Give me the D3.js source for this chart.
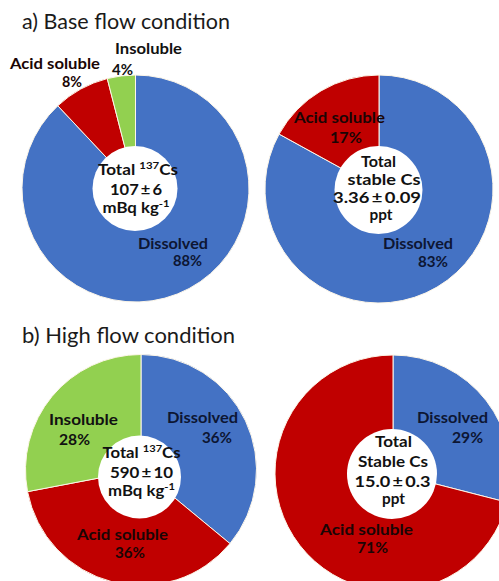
<!DOCTYPE html>
<html>
<head>
<meta charset="utf-8">
<script src="https://cdn.jsdelivr.net/npm/d3@7"></script>
<style>
  html, body { margin: 0; padding: 0; background: #fff; }
  svg { display: block; }
  text { font-family: Lato, "Open Sans", sans-serif; }
</style>
</head>
<body>
<svg id="chart" width="499" height="581"></svg>
<script>
// ---------------- DATA ----------------
const categories = ["Dissolved", "Acid soluble", "Insoluble"];
const baseFlowCs137   = [88, 8, 4];
const baseFlowStable  = [83, 17, 0];
const highFlowCs137   = [36, 36, 28];
const highFlowStable  = [29, 71, 0];
const panelTitles = ["a) Base flow condition", "b) High flow condition"];
const totalCs137Base   = "107\u2009\u00b1\u20096";
const totalStableBase  = "3.36\u2009\u00b1\u20090.09";
const totalCs137High   = "590\u2009\u00b1\u200910";
const totalStableHigh  = "15.0\u2009\u00b1\u20090.3";

// ---------------- STYLE / LAYOUT ----------------
const colors = ["#4472C4", "#C00000", "#92D050"];
const labelColors = ["#0d1633", "#1a0505", "#111111"];
const labelSize = 15;

const svg = d3.select("#chart");

const charts = [
  { values: baseFlowCs137, cx: 135.5, cy: 188.5, r: 113.5, hole: { cx: 135, cy: 188.5, r: 42.5 },
    labels: [
      { cat: 0, name: [173, 249, 70], pct: [187.5, 266, 29] },
      { cat: 1, name: [55, 69, 90],   pct: [72, 87, 20] },
      { cat: 2, name: [148.5, 54, 67], pct: [122.5, 75, 21] }
    ],
    center: [
      { parts: [["Total ", 0], ["137", 1], ["Cs", 0]], x: 138, y: 175, w: 80 },
      { parts: [[totalCs137Base, 0]], x: 136, y: 195, w: 52 },
      { parts: [["mBq kg", 0], ["-1", 1]], x: 136, y: 213, w: 67 }
    ] },
  { values: baseFlowStable, cx: 379, cy: 189, r: 114, hole: { cx: 378.5, cy: 190, r: 44 },
    labels: [
      { cat: 0, name: [418, 249, 70], pct: [433, 267, 30] },
      { cat: 1, name: [339.5, 123, 91], pct: [346, 143, 32] }
    ],
    center: [
      { parts: [["Total", 0]], x: 378.5, y: 167, w: 35 },
      { parts: [["stable Cs", 0]], x: 384, y: 185, w: 73 },
      { parts: [[totalStableBase, 0]], x: 377, y: 203, w: 88 },
      { parts: [["ppt", 0]], x: 381, y: 220, w: 23 }
    ] },
  { values: highFlowCs137, cx: 141, cy: 470, r: 115.5, hole: { cx: 139.5, cy: 477, r: 41.5 },
    labels: [
      { cat: 0, name: [202.5, 423, 71], pct: [217, 443, 30] },
      { cat: 1, name: [122.5, 540, 91], pct: [130, 558, 30] },
      { cat: 2, name: [83.5, 425, 69],  pct: [74.5, 445, 31] }
    ],
    center: [
      { parts: [["Total ", 0], ["137", 1], ["Cs", 0]], x: 141.5, y: 458, w: 78 },
      { parts: [[totalCs137High, 0]], x: 141.5, y: 478, w: 63 },
      { parts: [["mBq kg", 0], ["-1", 1]], x: 141.5, y: 496, w: 67 }
    ] },
  { values: highFlowStable, cx: 393, cy: 473, r: 118, hole: { cx: 392, cy: 474, r: 45 },
    labels: [
      { cat: 0, name: [452.5, 423, 71], pct: [467.5, 443, 31] },
      { cat: 1, name: [366.5, 535, 93], pct: [372.5, 553, 31] }
    ],
    center: [
      { parts: [["Total", 0]], x: 393.5, y: 447, w: 37 },
      { parts: [["Stable Cs", 0]], x: 393, y: 467, w: 70 },
      { parts: [[totalStableHigh, 0]], x: 392.5, y: 487, w: 76 },
      { parts: [["ppt", 0]], x: 393.5, y: 504, w: 23 }
    ] }
];

const titles = [
  { text: panelTitles[0], x: 22, y: 29, w: 208 },
  { text: panelTitles[1], x: 22, y: 343, w: 213 }
];

// ---------------- DRAW ----------------
const pie = d3.pie().sort(null).value(d => d);

titles.forEach(t => {
  svg.append("text")
    .attr("x", t.x).attr("y", t.y)
    .attr("font-size", 21)
    .attr("fill", "#1a1a1a")
    .attr("textLength", t.w)
    .attr("lengthAdjust", "spacingAndGlyphs")
    .text(t.text);
});

charts.forEach(c => {
  const g = svg.append("g").attr("transform", `translate(${c.cx},${c.cy})`);
  const arc = d3.arc().innerRadius(0).outerRadius(c.r);
  const arcs = pie(c.values).map((a, i) => ({ ...a, cat: i })).filter(a => a.data > 0);
  g.selectAll("path")
    .data(arcs)
    .join("path")
    .attr("d", arc)
    .attr("fill", d => colors[d.cat])
    .attr("stroke", "#fdf6e8")
    .attr("stroke-width", 1);

  svg.append("circle")
    .attr("cx", c.hole.cx).attr("cy", c.hole.cy).attr("r", c.hole.r)
    .attr("fill", "#fff");

  c.labels.forEach(l => {
    const v = c.values[l.cat];
    [[categories[l.cat], l.name], [v + "%", l.pct]].forEach(([txt, p]) => {
      svg.append("text")
        .attr("x", p[0]).attr("y", p[1])
        .attr("text-anchor", "middle")
        .attr("font-size", labelSize)
        .attr("font-weight", "bold")
        .attr("fill", labelColors[l.cat])
        .attr("textLength", p[2])
        .attr("lengthAdjust", "spacingAndGlyphs")
        .text(txt);
    });
  });

  c.center.forEach(line => {
    const t = svg.append("text")
      .attr("x", line.x).attr("y", line.y)
      .attr("text-anchor", "middle")
      .attr("font-size", labelSize)
      .attr("font-weight", "bold")
      .attr("fill", "#111")
      .attr("textLength", line.w)
      .attr("lengthAdjust", "spacingAndGlyphs");
    line.parts.forEach(([s, sup], i) => {
      const ts = t.append("tspan").text(s);
      if (sup) {
        ts.attr("font-size", 10).attr("dy", -6);
      } else if (i > 0 && line.parts[i - 1][1]) {
        ts.attr("dy", 6);
      }
    });
  });
});
</script>
</body>
</html>
